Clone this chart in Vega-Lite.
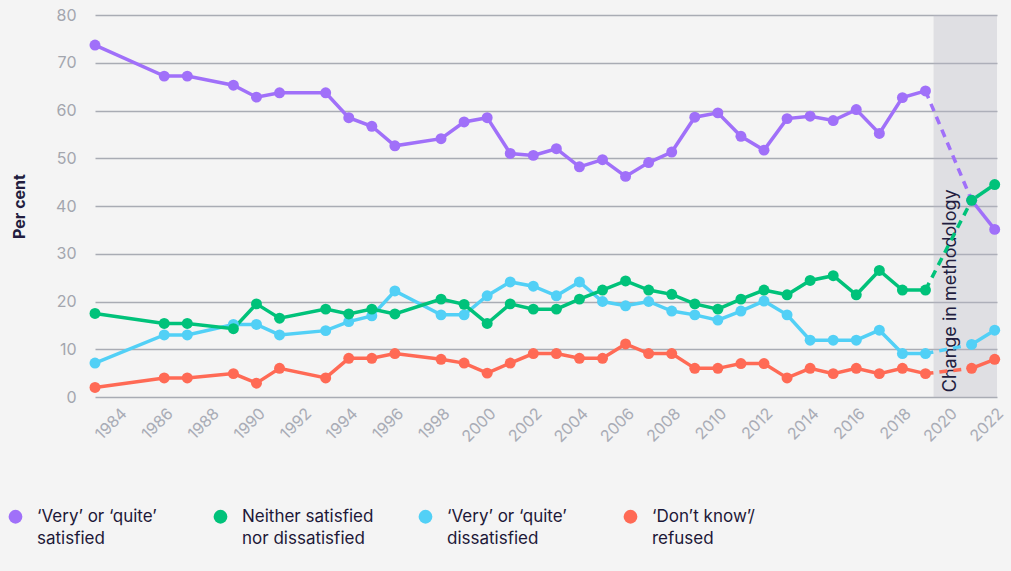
{
  "$schema": "https://vega.github.io/schema/vega-lite/v6.json",
  "width": 902,
  "height": 382,
  "autosize": "none",
  "padding": {"left": 95, "top": 15, "right": 14, "bottom": 174},
  "background": "#f4f4f4",
  "config": {
    "view": {"stroke": null},
    "font": "Inter",
    "axis": {"labelFont": "Inter", "titleFont": "Inter"},
    "legend": {"labelFont": "Inter"}
  },
  "datasets": {
    "band": [{"start": 2019.35, "end": 2022.1, "lo": 0, "hi": 80, "note": "Change in methodology", "tx": 2020.1, "ty": 1}],
    "main": [
      {"year": 1983, "s": "‘Very’ or ‘quite’|satisfied", "v": 73.7},
      {"year": 1986, "s": "‘Very’ or ‘quite’|satisfied", "v": 67.2},
      {"year": 1987, "s": "‘Very’ or ‘quite’|satisfied", "v": 67.2},
      {"year": 1989, "s": "‘Very’ or ‘quite’|satisfied", "v": 65.3},
      {"year": 1990, "s": "‘Very’ or ‘quite’|satisfied", "v": 62.8},
      {"year": 1991, "s": "‘Very’ or ‘quite’|satisfied", "v": 63.7},
      {"year": 1993, "s": "‘Very’ or ‘quite’|satisfied", "v": 63.7},
      {"year": 1994, "s": "‘Very’ or ‘quite’|satisfied", "v": 58.5},
      {"year": 1995, "s": "‘Very’ or ‘quite’|satisfied", "v": 56.7},
      {"year": 1996, "s": "‘Very’ or ‘quite’|satisfied", "v": 52.6},
      {"year": 1998, "s": "‘Very’ or ‘quite’|satisfied", "v": 54.1},
      {"year": 1999, "s": "‘Very’ or ‘quite’|satisfied", "v": 57.6},
      {"year": 2000, "s": "‘Very’ or ‘quite’|satisfied", "v": 58.5},
      {"year": 2001, "s": "‘Very’ or ‘quite’|satisfied", "v": 51.0},
      {"year": 2002, "s": "‘Very’ or ‘quite’|satisfied", "v": 50.6},
      {"year": 2003, "s": "‘Very’ or ‘quite’|satisfied", "v": 52.0},
      {"year": 2004, "s": "‘Very’ or ‘quite’|satisfied", "v": 48.2},
      {"year": 2005, "s": "‘Very’ or ‘quite’|satisfied", "v": 49.7},
      {"year": 2006, "s": "‘Very’ or ‘quite’|satisfied", "v": 46.2},
      {"year": 2007, "s": "‘Very’ or ‘quite’|satisfied", "v": 49.1},
      {"year": 2008, "s": "‘Very’ or ‘quite’|satisfied", "v": 51.3},
      {"year": 2009, "s": "‘Very’ or ‘quite’|satisfied", "v": 58.6},
      {"year": 2010, "s": "‘Very’ or ‘quite’|satisfied", "v": 59.5},
      {"year": 2011, "s": "‘Very’ or ‘quite’|satisfied", "v": 54.6},
      {"year": 2012, "s": "‘Very’ or ‘quite’|satisfied", "v": 51.7},
      {"year": 2013, "s": "‘Very’ or ‘quite’|satisfied", "v": 58.3},
      {"year": 2014, "s": "‘Very’ or ‘quite’|satisfied", "v": 58.8},
      {"year": 2015, "s": "‘Very’ or ‘quite’|satisfied", "v": 57.9},
      {"year": 2016, "s": "‘Very’ or ‘quite’|satisfied", "v": 60.2},
      {"year": 2017, "s": "‘Very’ or ‘quite’|satisfied", "v": 55.2},
      {"year": 2018, "s": "‘Very’ or ‘quite’|satisfied", "v": 62.7},
      {"year": 2019, "s": "‘Very’ or ‘quite’|satisfied", "v": 64.1},
      {"year": 2021, "s": "‘Very’ or ‘quite’|satisfied", "v": 41.2},
      {"year": 2022, "s": "‘Very’ or ‘quite’|satisfied", "v": 35.1},

      {"year": 1983, "s": "‘Very’ or ‘quite’|dissatisfied", "v": 7.1},
      {"year": 1986, "s": "‘Very’ or ‘quite’|dissatisfied", "v": 13.0},
      {"year": 1987, "s": "‘Very’ or ‘quite’|dissatisfied", "v": 13.0},
      {"year": 1989, "s": "‘Very’ or ‘quite’|dissatisfied", "v": 15.2},
      {"year": 1990, "s": "‘Very’ or ‘quite’|dissatisfied", "v": 15.2},
      {"year": 1991, "s": "‘Very’ or ‘quite’|dissatisfied", "v": 13.0},
      {"year": 1993, "s": "‘Very’ or ‘quite’|dissatisfied", "v": 13.9},
      {"year": 1994, "s": "‘Very’ or ‘quite’|dissatisfied", "v": 15.8},
      {"year": 1995, "s": "‘Very’ or ‘quite’|dissatisfied", "v": 17.0},
      {"year": 1996, "s": "‘Very’ or ‘quite’|dissatisfied", "v": 22.2},
      {"year": 1998, "s": "‘Very’ or ‘quite’|dissatisfied", "v": 17.2},
      {"year": 1999, "s": "‘Very’ or ‘quite’|dissatisfied", "v": 17.2},
      {"year": 2000, "s": "‘Very’ or ‘quite’|dissatisfied", "v": 21.2},
      {"year": 2001, "s": "‘Very’ or ‘quite’|dissatisfied", "v": 24.1},
      {"year": 2002, "s": "‘Very’ or ‘quite’|dissatisfied", "v": 23.2},
      {"year": 2003, "s": "‘Very’ or ‘quite’|dissatisfied", "v": 21.2},
      {"year": 2004, "s": "‘Very’ or ‘quite’|dissatisfied", "v": 24.1},
      {"year": 2005, "s": "‘Very’ or ‘quite’|dissatisfied", "v": 20.0},
      {"year": 2006, "s": "‘Very’ or ‘quite’|dissatisfied", "v": 19.1},
      {"year": 2007, "s": "‘Very’ or ‘quite’|dissatisfied", "v": 20.0},
      {"year": 2008, "s": "‘Very’ or ‘quite’|dissatisfied", "v": 18.0},
      {"year": 2009, "s": "‘Very’ or ‘quite’|dissatisfied", "v": 17.2},
      {"year": 2010, "s": "‘Very’ or ‘quite’|dissatisfied", "v": 16.1},
      {"year": 2011, "s": "‘Very’ or ‘quite’|dissatisfied", "v": 18.0},
      {"year": 2012, "s": "‘Very’ or ‘quite’|dissatisfied", "v": 20.1},
      {"year": 2013, "s": "‘Very’ or ‘quite’|dissatisfied", "v": 17.2},
      {"year": 2014, "s": "‘Very’ or ‘quite’|dissatisfied", "v": 11.9},
      {"year": 2015, "s": "‘Very’ or ‘quite’|dissatisfied", "v": 11.9},
      {"year": 2016, "s": "‘Very’ or ‘quite’|dissatisfied", "v": 11.9},
      {"year": 2017, "s": "‘Very’ or ‘quite’|dissatisfied", "v": 14.0},
      {"year": 2018, "s": "‘Very’ or ‘quite’|dissatisfied", "v": 9.1},
      {"year": 2019, "s": "‘Very’ or ‘quite’|dissatisfied", "v": 9.1},
      {"year": 2021, "s": "‘Very’ or ‘quite’|dissatisfied", "v": 11.0},
      {"year": 2022, "s": "‘Very’ or ‘quite’|dissatisfied", "v": 14.0},

      {"year": 1983, "s": "‘Don’t know’/|refused", "v": 2.0},
      {"year": 1986, "s": "‘Don’t know’/|refused", "v": 4.0},
      {"year": 1987, "s": "‘Don’t know’/|refused", "v": 4.0},
      {"year": 1989, "s": "‘Don’t know’/|refused", "v": 4.9},
      {"year": 1990, "s": "‘Don’t know’/|refused", "v": 2.9},
      {"year": 1991, "s": "‘Don’t know’/|refused", "v": 6.0},
      {"year": 1993, "s": "‘Don’t know’/|refused", "v": 4.0},
      {"year": 1994, "s": "‘Don’t know’/|refused", "v": 8.1},
      {"year": 1995, "s": "‘Don’t know’/|refused", "v": 8.1},
      {"year": 1996, "s": "‘Don’t know’/|refused", "v": 9.1},
      {"year": 1998, "s": "‘Don’t know’/|refused", "v": 7.9},
      {"year": 1999, "s": "‘Don’t know’/|refused", "v": 7.1},
      {"year": 2000, "s": "‘Don’t know’/|refused", "v": 5.0},
      {"year": 2001, "s": "‘Don’t know’/|refused", "v": 7.1},
      {"year": 2002, "s": "‘Don’t know’/|refused", "v": 9.1},
      {"year": 2003, "s": "‘Don’t know’/|refused", "v": 9.1},
      {"year": 2004, "s": "‘Don’t know’/|refused", "v": 8.1},
      {"year": 2005, "s": "‘Don’t know’/|refused", "v": 8.1},
      {"year": 2006, "s": "‘Don’t know’/|refused", "v": 11.1},
      {"year": 2007, "s": "‘Don’t know’/|refused", "v": 9.1},
      {"year": 2008, "s": "‘Don’t know’/|refused", "v": 9.1},
      {"year": 2009, "s": "‘Don’t know’/|refused", "v": 6.0},
      {"year": 2010, "s": "‘Don’t know’/|refused", "v": 6.0},
      {"year": 2011, "s": "‘Don’t know’/|refused", "v": 7.0},
      {"year": 2012, "s": "‘Don’t know’/|refused", "v": 7.0},
      {"year": 2013, "s": "‘Don’t know’/|refused", "v": 4.0},
      {"year": 2014, "s": "‘Don’t know’/|refused", "v": 6.0},
      {"year": 2015, "s": "‘Don’t know’/|refused", "v": 4.9},
      {"year": 2016, "s": "‘Don’t know’/|refused", "v": 6.0},
      {"year": 2017, "s": "‘Don’t know’/|refused", "v": 4.9},
      {"year": 2018, "s": "‘Don’t know’/|refused", "v": 6.0},
      {"year": 2019, "s": "‘Don’t know’/|refused", "v": 4.9},
      {"year": 2021, "s": "‘Don’t know’/|refused", "v": 6.0},
      {"year": 2022, "s": "‘Don’t know’/|refused", "v": 7.9},

      {"year": 1983, "s": "Neither satisfied|nor dissatisfied", "v": 17.5},
      {"year": 1986, "s": "Neither satisfied|nor dissatisfied", "v": 15.4},
      {"year": 1987, "s": "Neither satisfied|nor dissatisfied", "v": 15.4},
      {"year": 1989, "s": "Neither satisfied|nor dissatisfied", "v": 14.3},
      {"year": 1990, "s": "Neither satisfied|nor dissatisfied", "v": 19.5},
      {"year": 1991, "s": "Neither satisfied|nor dissatisfied", "v": 16.5},
      {"year": 1993, "s": "Neither satisfied|nor dissatisfied", "v": 18.4},
      {"year": 1994, "s": "Neither satisfied|nor dissatisfied", "v": 17.4},
      {"year": 1995, "s": "Neither satisfied|nor dissatisfied", "v": 18.4},
      {"year": 1996, "s": "Neither satisfied|nor dissatisfied", "v": 17.4},
      {"year": 1998, "s": "Neither satisfied|nor dissatisfied", "v": 20.5},
      {"year": 1999, "s": "Neither satisfied|nor dissatisfied", "v": 19.4},
      {"year": 2000, "s": "Neither satisfied|nor dissatisfied", "v": 15.4},
      {"year": 2001, "s": "Neither satisfied|nor dissatisfied", "v": 19.5},
      {"year": 2002, "s": "Neither satisfied|nor dissatisfied", "v": 18.4},
      {"year": 2003, "s": "Neither satisfied|nor dissatisfied", "v": 18.4},
      {"year": 2004, "s": "Neither satisfied|nor dissatisfied", "v": 20.5},
      {"year": 2005, "s": "Neither satisfied|nor dissatisfied", "v": 22.4},
      {"year": 2006, "s": "Neither satisfied|nor dissatisfied", "v": 24.3},
      {"year": 2007, "s": "Neither satisfied|nor dissatisfied", "v": 22.4},
      {"year": 2008, "s": "Neither satisfied|nor dissatisfied", "v": 21.5},
      {"year": 2009, "s": "Neither satisfied|nor dissatisfied", "v": 19.5},
      {"year": 2010, "s": "Neither satisfied|nor dissatisfied", "v": 18.4},
      {"year": 2011, "s": "Neither satisfied|nor dissatisfied", "v": 20.5},
      {"year": 2012, "s": "Neither satisfied|nor dissatisfied", "v": 22.4},
      {"year": 2013, "s": "Neither satisfied|nor dissatisfied", "v": 21.4},
      {"year": 2014, "s": "Neither satisfied|nor dissatisfied", "v": 24.4},
      {"year": 2015, "s": "Neither satisfied|nor dissatisfied", "v": 25.4},
      {"year": 2016, "s": "Neither satisfied|nor dissatisfied", "v": 21.4},
      {"year": 2017, "s": "Neither satisfied|nor dissatisfied", "v": 26.5},
      {"year": 2018, "s": "Neither satisfied|nor dissatisfied", "v": 22.4},
      {"year": 2019, "s": "Neither satisfied|nor dissatisfied", "v": 22.4},
      {"year": 2021, "s": "Neither satisfied|nor dissatisfied", "v": 41.2},
      {"year": 2022, "s": "Neither satisfied|nor dissatisfied", "v": 44.5}
    ]
  },
  "resolve": {"scale": {"x": "shared", "y": "shared"}},
  "layer": [
    {
      "data": {"name": "band"},
      "mark": {"type": "rect", "color": "#b8b8c4", "opacity": 0.333},
      "encoding": {
        "x": {
          "field": "start", "type": "quantitative",
          "scale": {"domain": [1983, 2022.1], "nice": false, "zero": false},
          "axis": {
            "title": null,
            "values": [1984, 1986, 1988, 1990, 1992, 1994, 1996, 1998, 2000, 2002, 2004, 2006, 2008, 2010, 2012, 2014, 2016, 2018, 2020, 2022],
            "format": "d",
            "labelAngle": -45,
            "labelAlign": "right",
            "labelBaseline": "top",
            "labelColor": "#a9acb6",
            "labelFontSize": 16,
            "labelPadding": 8,
            "labelFlush": false,
            "labelOverlap": false,
            "ticks": false,
            "domain": false,
            "grid": false
          }
        },
        "x2": {"field": "end"},
        "y": {
          "field": "hi", "type": "quantitative",
          "scale": {"domain": [0, 80], "nice": false},
          "axis": {
            "title": "Per cent",
            "titleFontSize": 16,
            "titleFontWeight": "bold",
            "titleColor": "#221d3f",
            "titlePadding": 28,
            "values": [0, 10, 20, 30, 40, 50, 60, 70, 80],
            "labelColor": "#a3a6ae",
            "labelFontSize": 16,
            "labelPadding": 19,
            "ticks": false,
            "domain": false,
            "grid": true,
            "gridColor": "#a9acb4",
            "gridWidth": 1.5
          }
        },
        "y2": {"field": "lo"}
      }
    },
    {
      "data": {"name": "band"},
      "mark": {"type": "text", "angle": 270, "align": "left", "baseline": "middle", "fontSize": 18, "color": "#221d3f"},
      "encoding": {
        "x": {"field": "tx", "type": "quantitative"},
        "y": {"field": "ty", "type": "quantitative"},
        "text": {"field": "note"}
      }
    },
    {
      "data": {"name": "main"},
      "transform": [{"filter": "datum.year <= 2019"}],
      "mark": {"type": "line", "strokeWidth": 3.5},
      "encoding": {
        "x": {"field": "year", "type": "quantitative"},
        "y": {"field": "v", "type": "quantitative"},
        "color": {
          "field": "s", "type": "nominal",
          "scale": {
            "domain": ["‘Very’ or ‘quite’|satisfied", "Neither satisfied|nor dissatisfied", "‘Very’ or ‘quite’|dissatisfied", "‘Don’t know’/|refused"],
            "range": ["#a070f9", "#00c27a", "#52d0f6", "#ff6a55"]
          },
          "legend": {
            "title": null,
            "orient": "none",
            "legendX": -88,
            "legendY": 493,
            "direction": "horizontal",
            "columns": 4,
            "gridAlign": "all",
            "columnPadding": 43,
            "symbolType": "circle",
            "symbolSize": 190,
            "symbolStrokeWidth": 0,
            "symbolOpacity": 1,
            "labelFontSize": 17,
            "labelColor": "#1d1838",
            "labelOffset": 13,
            "labelLimit": 300,
            "labelBaseline": "middle",
            "labelExpr": "split(datum.label, '|')",
            "encode": {"labels": {"update": {"lineHeight": {"value": 22}}}}
          }
        }
      }
    },
    {
      "data": {"name": "main"},
      "transform": [{"filter": "datum.year >= 2019 && datum.year <= 2021"}],
      "mark": {"type": "line", "strokeWidth": 3.5, "strokeDash": [8, 6]},
      "encoding": {
        "x": {"field": "year", "type": "quantitative"},
        "y": {"field": "v", "type": "quantitative"},
        "color": {"field": "s", "type": "nominal"}
      }
    },
    {
      "data": {"name": "main"},
      "transform": [{"filter": "datum.year >= 2021"}],
      "mark": {"type": "line", "strokeWidth": 3.5},
      "encoding": {
        "x": {"field": "year", "type": "quantitative"},
        "y": {"field": "v", "type": "quantitative"},
        "color": {"field": "s", "type": "nominal"}
      }
    },
    {
      "data": {"name": "main"},
      "mark": {"type": "point", "filled": true, "opacity": 1, "size": 120},
      "encoding": {
        "x": {"field": "year", "type": "quantitative"},
        "y": {"field": "v", "type": "quantitative"},
        "color": {"field": "s", "type": "nominal"}
      }
    }
  ]
}
